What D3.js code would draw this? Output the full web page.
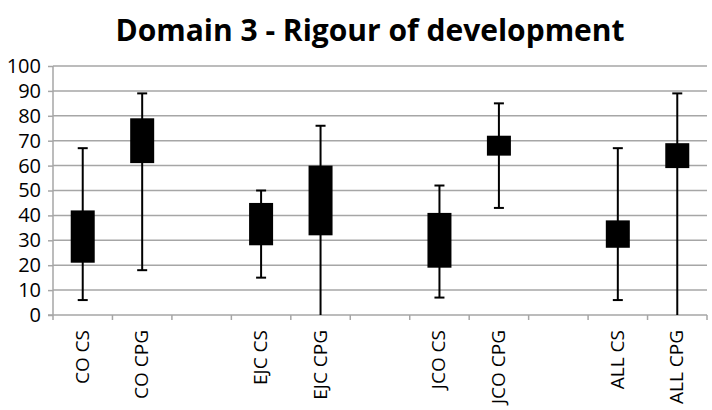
<!DOCTYPE html>
<html>
<head>
<meta charset="utf-8">
<script src="https://cdn.jsdelivr.net/npm/d3@7"></script>
<style>
  body { margin: 0; background: #fff; }
  svg text { font-family: "Open Sans", "Liberation Sans", sans-serif; }
</style>
</head>
<body>
<div id="chart"></div>
<script>
// chart size and plot area
const width = 712;
const height = 410;
const margin = { left: 53, right: 5, top: 66, bottom: 95 };

// data ("" = empty gap slot)
const categories = ["CO CS", "CO CPG", "", "EJC CS", "EJC CPG", "", "JCO CS", "JCO CPG", "", "ALL CS", "ALL CPG"];
const lowValues  = [6, 18, null, 15, 0, null, 7, 43, null, 6, 0];
const q1Values   = [21, 61, null, 28, 32, null, 19, 64, null, 27, 59];
const q3Values   = [42, 79, null, 45, 60, null, 41, 72, null, 38, 69];
const highValues = [67, 89, null, 50, 76, null, 52, 85, null, 67, 89];
const yTicks = [0, 10, 20, 30, 40, 50, 60, 70, 80, 90, 100];

const svg = d3.select("#chart")
  .append("svg")
  .attr("width", width)
  .attr("height", height);

// title
svg.append("text")
  .attr("x", 370)
  .attr("y", 41)
  .attr("text-anchor", "middle")
  .attr("font-size", "30px")
  .attr("font-weight", "bold")
  .text("Domain 3 - Rigour of development");

// scales
const xScale = d3.scaleBand()
  .domain(d3.range(categories.length))
  .range([margin.left, width - margin.right])
  .padding(0);

const yScale = d3.scaleLinear()
  .domain([0, 100])
  .range([height - margin.bottom, margin.top]);

// gridlines
svg.append("g")
  .selectAll("line")
  .data(yTicks.slice(1))
  .enter()
  .append("line")
  .attr("x1", margin.left)
  .attr("x2", width - margin.right)
  .attr("y1", d => yScale(d))
  .attr("y2", d => yScale(d))
  .attr("stroke", "#a6a6a6")
  .attr("stroke-width", 1.5);

// y axis
const yAxis = svg.append("g")
  .attr("transform", `translate(${margin.left},0)`)
  .call(d3.axisLeft(yScale).tickValues(yTicks).tickSize(5).tickPadding(7));
yAxis.selectAll("path, line").attr("stroke", "#a6a6a6").attr("stroke-width", 1.5);
yAxis.attr("font-size", null).attr("font-family", null);
yAxis.selectAll("text").attr("font-size", "20px").attr("fill", "#000");
yAxis.select(".domain").attr("d", `M0,${yScale(0)}V${yScale(100)}`);

// x axis: ticks at category boundaries
const xAxisG = svg.append("g")
  .attr("transform", `translate(0,${yScale(0)})`);
xAxisG.append("line")
  .attr("x1", margin.left - 5)
  .attr("x2", width - margin.right)
  .attr("stroke", "#a6a6a6")
  .attr("stroke-width", 1.5);
xAxisG.selectAll(".xtick")
  .data(d3.range(categories.length + 1))
  .enter()
  .append("line")
  .attr("class", "xtick")
  .attr("x1", i => i < categories.length ? xScale(i) : xScale(i - 1) + xScale.bandwidth())
  .attr("x2", i => i < categories.length ? xScale(i) : xScale(i - 1) + xScale.bandwidth())
  .attr("y1", 0)
  .attr("y2", 5)
  .attr("stroke", "#a6a6a6")
  .attr("stroke-width", 1.5);

// rotated category labels
xAxisG.selectAll(".xlabel")
  .data(categories)
  .enter()
  .append("text")
  .attr("class", "xlabel")
  .attr("transform", (d, i) => `translate(${xScale(i) + xScale.bandwidth() / 2 + 6},15) rotate(-90)`)
  .attr("text-anchor", "end")
  .attr("font-size", "19px")
  .text(d => d);

// boxes
const idx = d3.range(categories.length).filter(i => lowValues[i] !== null);
const cx = i => xScale(i) + xScale.bandwidth() / 2;
const boxW = 24;
const capW = 10;

const marks = svg.append("g");

// whiskers
marks.selectAll(".whisker")
  .data(idx)
  .enter()
  .append("line")
  .attr("x1", cx)
  .attr("x2", cx)
  .attr("y1", i => yScale(lowValues[i]))
  .attr("y2", i => yScale(highValues[i]))
  .attr("stroke", "#000")
  .attr("stroke-width", 2);

// caps (the one at 0 sits on the axis, none drawn)
marks.selectAll(".capHigh")
  .data(idx)
  .enter()
  .append("line")
  .attr("x1", i => cx(i) - capW / 2)
  .attr("x2", i => cx(i) + capW / 2)
  .attr("y1", i => yScale(highValues[i]))
  .attr("y2", i => yScale(highValues[i]))
  .attr("stroke", "#000")
  .attr("stroke-width", 2);

marks.selectAll(".capLow")
  .data(idx.filter(i => lowValues[i] > 0))
  .enter()
  .append("line")
  .attr("x1", i => cx(i) - capW / 2)
  .attr("x2", i => cx(i) + capW / 2)
  .attr("y1", i => yScale(lowValues[i]))
  .attr("y2", i => yScale(lowValues[i]))
  .attr("stroke", "#000")
  .attr("stroke-width", 2);

marks.selectAll(".box")
  .data(idx)
  .enter()
  .append("rect")
  .attr("x", i => cx(i) - boxW / 2)
  .attr("y", i => yScale(q3Values[i]))
  .attr("width", boxW)
  .attr("height", i => yScale(q1Values[i]) - yScale(q3Values[i]))
  .attr("fill", "#000");
</script>
</body>
</html>
